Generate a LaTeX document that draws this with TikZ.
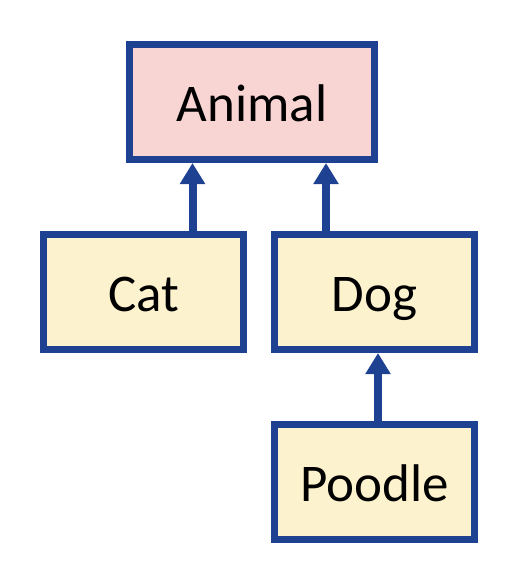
\documentclass[tikz,border=0pt]{standalone}
\usepackage{fontspec}
\setmainfont{Carlito}
\usetikzlibrary{arrows.meta}
\definecolor{bblue}{RGB}{30,66,145}
\definecolor{pinkfill}{RGB}{248,212,210}
\definecolor{yellowfill}{RGB}{253,242,206}
\begin{document}
\begin{tikzpicture}[x=1pt,y=-1pt,
  cls/.style={draw=bblue,line width=7pt,minimum width=200pt,minimum height=115pt,inner sep=0pt,text height=38pt,text depth=0pt,fill=yellowfill,font=\fontsize{53}{60}\selectfont},
  arr/.style={draw=bblue,line width=8pt,-{Triangle[width=24pt,length=21pt]}}]
\useasboundingbox (0,0) rectangle (523,570);
\node[cls,fill=pinkfill,minimum width=245pt] (animal) at (252,102) {Animal};
\node[cls] (cat) at (143.5,292) {Cat};
\node[cls] (dog) at (374.5,292) {Dog};
\node[cls] (poodle) at (374.5,482) {Poodle};
\coordinate (xa) at (192.5,0);
\coordinate (xb) at (326,0);
\coordinate (xc) at (378,0);
\draw[arr] (cat.north -| xa) -- (animal.south -| xa);
\draw[arr] (dog.north -| xb) -- (animal.south -| xb);
\draw[arr] (poodle.north -| xc) -- (dog.south -| xc);
\end{tikzpicture}
\end{document}
